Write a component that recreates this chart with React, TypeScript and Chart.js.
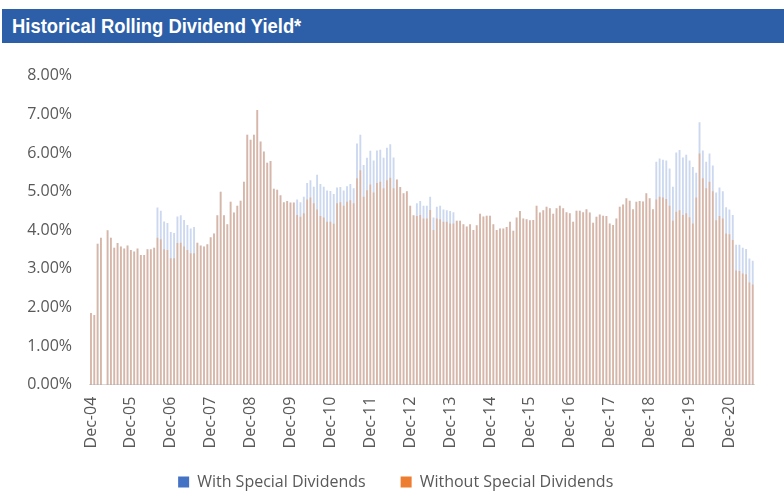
import React, { useEffect, useRef } from 'react';
import { Chart, registerables } from 'chart.js';

Chart.register(...registerables);

// Monthly categories: Dec-04 .. Jul-21
const monthNames = ['Jan', 'Feb', 'Mar', 'Apr', 'May', 'Jun', 'Jul', 'Aug', 'Sep', 'Oct', 'Nov', 'Dec'];
const startYear = 2004;
const startMonth = 11; // December
const monthCount = 200;
const categories: string[] = [];
for (let k = 0; k < monthCount; k++) {
  const m = (startMonth + k) % 12;
  const y = startYear + Math.floor((startMonth + k) / 12);
  categories.push(monthNames[m] + '-' + String(y % 100).padStart(2, '0'));
}

const seriesNames = ['With Special Dividends', 'Without Special Dividends'];

// Yield (%) including special dividends
const withSpecial: (number | null)[] = [
  1.85, 1.80, 3.64, 3.80, null, 3.99, 3.80, 3.54, 3.66, 3.57, 3.52, 3.60,
  3.48, 3.44, 3.52, 3.35, 3.35, 3.50, 3.50, 3.54, 4.58, 4.50, 4.22, 4.18,
  3.95, 3.92, 4.35, 4.38, 4.26, 4.13, 4.04, 4.08, 3.67, 3.60, 3.57, 3.63,
  3.81, 3.91, 4.38, 4.99, 4.38, 4.15, 4.73, 4.45, 4.63, 4.76, 5.25, 6.47,
  6.34, 6.47, 7.11, 6.29, 6.03, 5.74, 5.79, 5.07, 5.04, 4.90, 4.72, 4.75,
  4.71, 4.71, 4.79, 4.72, 4.86, 5.22, 5.29, 5.12, 5.43, 5.19, 5.12, 5.02,
  5.01, 4.93, 5.10, 5.11, 5.02, 5.13, 5.19, 5.08, 6.24, 6.47, 5.68, 5.87,
  6.05, 5.80, 6.06, 6.08, 5.87, 6.13, 6.22, 5.88, 5.31, 5.11, 4.95, 5.00,
  4.63, 4.38, 4.69, 4.75, 4.63, 4.63, 4.86, 4.32, 4.60, 4.63, 4.53, 4.51,
  4.49, 4.46, 4.24, 4.24, 4.15, 4.09, 4.15, 4.00, 4.12, 4.42, 4.35, 4.37,
  4.37, 4.15, 4.00, 4.04, 4.04, 4.08, 4.21, 3.98, 4.32, 4.49, 4.30, 4.28,
  4.25, 4.26, 4.63, 4.45, 4.51, 4.60, 4.56, 4.42, 4.56, 4.63, 4.56, 4.46,
  4.43, 4.21, 4.50, 4.50, 4.46, 4.54, 4.45, 4.19, 4.34, 4.40, 4.37, 4.36,
  4.17, 4.13, 4.30, 4.60, 4.66, 4.82, 4.76, 4.54, 4.73, 4.75, 4.74, 4.95,
  4.82, 4.54, 5.77, 5.85, 5.82, 5.80, 5.59, 5.12, 6.01, 6.07, 5.88, 5.95,
  5.80, 5.63, 5.48, 6.79, 6.06, 5.77, 5.98, 5.67, 4.97, 5.10, 5.00, 4.59,
  4.53, 4.39, 3.62, 3.62, 3.54, 3.51, 3.26, 3.20,
];

// Yield (%) excluding special dividends
const withoutSpecial: (number | null)[] = [
  1.85, 1.80, 3.64, 3.80, null, 3.99, 3.80, 3.54, 3.66, 3.57, 3.52, 3.60,
  3.48, 3.44, 3.52, 3.35, 3.35, 3.50, 3.50, 3.54, 3.80, 3.76, 3.50, 3.48,
  3.27, 3.27, 3.66, 3.67, 3.57, 3.48, 3.40, 3.40, 3.67, 3.60, 3.57, 3.63,
  3.81, 3.91, 4.38, 4.99, 4.38, 4.15, 4.73, 4.45, 4.63, 4.76, 5.25, 6.47,
  6.34, 6.47, 7.11, 6.29, 6.03, 5.74, 5.79, 5.07, 5.04, 4.90, 4.72, 4.75,
  4.71, 4.71, 4.39, 4.34, 4.43, 4.79, 4.84, 4.69, 4.53, 4.36, 4.32, 4.21,
  4.21, 4.16, 4.69, 4.72, 4.63, 4.73, 4.77, 4.69, 5.34, 5.55, 4.86, 5.03,
  5.18, 4.97, 5.22, 5.25, 5.08, 5.29, 5.35, 5.08, 5.31, 5.11, 4.95, 5.00,
  4.63, 4.38, 4.36, 4.39, 4.30, 4.30, 4.52, 4.00, 4.30, 4.28, 4.21, 4.21,
  4.17, 4.17, 4.24, 4.24, 4.15, 4.09, 4.15, 4.00, 4.12, 4.42, 4.35, 4.37,
  4.37, 4.15, 4.00, 4.04, 4.04, 4.08, 4.21, 3.98, 4.32, 4.49, 4.30, 4.28,
  4.25, 4.26, 4.63, 4.45, 4.51, 4.60, 4.56, 4.42, 4.56, 4.63, 4.56, 4.46,
  4.43, 4.21, 4.50, 4.50, 4.46, 4.54, 4.45, 4.19, 4.34, 4.40, 4.37, 4.36,
  4.17, 4.13, 4.30, 4.60, 4.66, 4.82, 4.76, 4.54, 4.73, 4.75, 4.74, 4.95,
  4.82, 4.54, 4.79, 4.86, 4.84, 4.80, 4.63, 4.24, 4.47, 4.51, 4.39, 4.43,
  4.33, 4.17, 4.84, 5.98, 5.34, 5.08, 5.25, 5.00, 4.25, 4.36, 4.30, 3.91,
  3.89, 3.74, 2.95, 2.94, 2.87, 2.85, 2.64, 2.59,
];

const yTicks = [0, 1, 2, 3, 4, 5, 6, 7, 8];

const BLUE = '#4472C4';
const ORANGE = '#ED7D31';
const TEXT = '#595959';
const FONT = "'Open Sans', 'Liberation Sans', sans-serif";

const noLabelClip = (axis: any) => {
  axis._computeLabelArea = () => undefined;
};

export default function App() {
  const canvasRef = useRef<HTMLCanvasElement | null>(null);

  useEffect(() => {
    const canvas = canvasRef.current;
    if (!canvas) return;
    const chart = new Chart(canvas, {
      type: 'bar',
      data: {
        labels: categories,
        datasets: [
          {
            label: seriesNames[0],
            data: withSpecial,
            backgroundColor: 'rgba(68,114,196,0.28)',
            borderWidth: 0,
            grouped: false,
            barThickness: 1.2,
            order: 2,
          } as any,
          {
            label: seriesNames[1],
            data: withoutSpecial,
            backgroundColor: 'rgba(237,125,49,0.38)',
            borderWidth: 0,
            grouped: false,
            barThickness: 1.2,
            order: 1,
          } as any,
        ],
      },
      options: {
        responsive: false,
        animation: false,
        devicePixelRatio: 1,
        layout: { padding: { top: 32.9, left: 33.7, right: 26.3, bottom: 0 } },
        plugins: {
          tooltip: { enabled: false },
          title: { display: false },
          legend: {
            display: true,
            position: 'bottom',
            align: 'center',
            labels: {
              boxWidth: 11,
              boxHeight: 11,
              padding: 35,
              color: TEXT,
              font: { family: FONT, size: 16 },
              generateLabels: () => [
                { text: seriesNames[0], fillStyle: BLUE, strokeStyle: BLUE, lineWidth: 0, hidden: false, datasetIndex: 0, fontColor: TEXT },
                { text: seriesNames[1], fillStyle: ORANGE, strokeStyle: ORANGE, lineWidth: 0, hidden: false, datasetIndex: 1, fontColor: TEXT },
              ] as any,
            },
          },
        },
        scales: {
          x: {
            type: 'category',
            offset: true,
            grid: { display: false, drawTicks: false },
            border: { display: true, color: '#D9D9D9', width: 1 },
            ticks: {
              autoSkip: false,
              minRotation: 90,
              maxRotation: 90,
              padding: 12,
              color: TEXT,
              font: { family: FONT, size: 16 },
              callback: (_v: any, idx: number) => (categories[idx].startsWith('Dec') ? categories[idx] : ''),
            },
            afterFit: (axis: any) => {
              axis.height = 54.3;
              noLabelClip(axis);
            },
          },
          y: {
            min: yTicks[0],
            max: yTicks[yTicks.length - 1],
            grid: { display: false, drawTicks: false },
            border: { display: false },
            afterBuildTicks: (axis: any) => {
              axis.ticks = yTicks.map((v) => ({ value: v }));
            },
            ticks: {
              padding: 17.3,
              color: TEXT,
              font: { family: FONT, size: 16 },
              callback: (v: any) => Number(v).toFixed(2) + '%',
            },
            afterFit: (axis: any) => {
              axis.width = 89.3 - 33.7;
              noLabelClip(axis);
            },
          },
        },
      },
    });
    return () => chart.destroy();
  }, []);

  return (
    <div style={{ position: 'fixed', left: 0, top: 0, width: 784, height: 491, overflow: 'hidden', background: '#fff' }}>
      <div
        style={{
          position: 'absolute',
          left: 2,
          top: 9,
          width: 782,
          height: 34,
          background: '#2D5FA8',
          boxSizing: 'border-box',
          overflow: 'hidden',
        }}
      >
        <span
          style={{
            position: 'absolute',
            left: 10,
            top: 0,
            display: 'inline-block',
            color: '#fff',
            fontFamily: "'Liberation Sans', Arial, sans-serif",
            fontWeight: 'bold',
            fontSize: 21,
            lineHeight: '34px',
            whiteSpace: 'nowrap',
            transform: 'scaleX(0.876)',
            transformOrigin: 'left center',
          }}
        >
          Historical Rolling Dividend Yield*
        </span>
      </div>
      <canvas
        ref={canvasRef}
        width={784}
        height={457}
        style={{ position: 'absolute', left: 0, top: 43, width: 784, height: 457 }}
      />
    </div>
  );
}
